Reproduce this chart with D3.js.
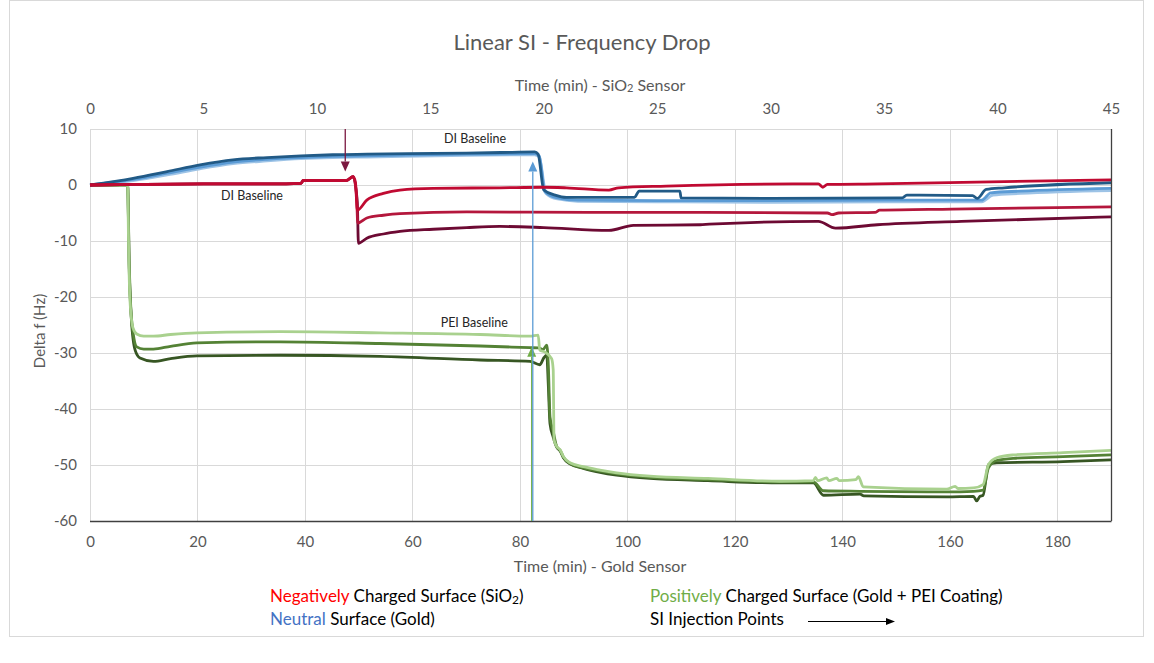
<!DOCTYPE html>
<html>
<head>
<meta charset="utf-8">
<script src="https://cdn.jsdelivr.net/npm/d3@7"></script>
<style>
  html, body { margin: 0; padding: 0; background: #fff; }
  svg { display: block; }
  text { font-family: Lato, "Open Sans", sans-serif; }
</style>
</head>
<body>
<svg id="chart" width="1154" height="663"></svg>
<script>
// ---- Data -------------------------------------------------------------
// SiO2 sensor runs (top axis, minutes) : [time, delta f in Hz]
const negA = [[0,0],[2,0.1],[5,0.2],[8,0.2],[9.3,0.3],[9.4,0.8],[11.3,0.8],[11.6,1.5],[11.7,0.5],[11.78,-4.5],[12.2,-2.7],[12.93,-1.5],[13.66,-0.9],[15.13,-0.6],[18.07,-0.5],[19.97,-0.4],[21,-0.5],[22.87,-0.9],[23.3,-0.5],[25.4,-0.2],[31,0.2],[32.1,0.2],[32.3,-0.4],[32.5,0.1],[34.7,0.2],[40.3,0.6],[45,0.9]];
const negB = [[0,0],[2,0.1],[5,0.2],[8,0.2],[9.3,0.3],[9.4,0.8],[11.3,0.8],[11.6,1.5],[11.75,-2],[11.8,-6.8],[12.2,-5.9],[12.93,-5.4],[13.66,-5.1],[16.6,-4.8],[22,-4.9],[27,-4.9],[32.5,-5.0],[32.7,-5.3],[33,-5.0],[34.6,-4.9],[34.8,-4.5],[38,-4.3],[45,-3.9]];
const negC = [[0,0],[2,0.1],[5,0.2],[8,0.2],[9.3,0.3],[9.4,0.8],[11.3,0.8],[11.6,1.5],[11.78,-3],[11.83,-10.4],[12.2,-9.5],[12.93,-8.75],[13.66,-8.3],[15.13,-7.9],[16.6,-7.6],[18.07,-7.4],[20,-7.6],[22.87,-8.1],[23.95,-7.2],[26.9,-7.1],[27.3,-7.0],[32.1,-6.5],[32.86,-7.7],[34.7,-7.1],[38.4,-6.5],[45,-5.7]];

// Gold sensor runs (top axis, minutes)
const neuDark = [[0,0],[1.9,1.2],[3.4,2.4],[4.85,3.6],[6.3,4.5],[7.8,4.9],[9.3,5.2],[10.7,5.4],[12.2,5.5],[14,5.6],[16.6,5.7],[18.1,5.8],[19.6,5.9],[19.75,5.5],[20.0,-0.9],[20.5,-1.8],[21,-2.2],[24.0,-2.2],[24.2,-1.1],[26.0,-1.1],[26.05,-2.3],[30,-2.4],[35.8,-2.3],[36,-1.8],[38.9,-1.9],[39.1,-2.4],[39.5,-0.8],[40.3,-0.5],[45,0.4]];
const neuMid = [[0,0],[1.9,1.0],[3.4,2.1],[4.85,3.2],[6.3,4.1],[7.8,4.6],[9.3,4.9],[10.7,5.1],[12.2,5.2],[16.6,5.5],[19.6,5.6],[19.8,5.2],[20.05,-1.2],[20.6,-2.3],[21.5,-2.7],[25,-2.8],[30,-2.8],[35,-2.7],[39.3,-2.7],[39.7,-1.4],[41,-1.1],[45,-0.6]];
const neuLight = [[0,0],[1.9,0.8],[3.4,1.8],[4.85,2.9],[6.3,3.8],[7.8,4.3],[9.3,4.7],[10.7,4.9],[12.2,5.0],[16.6,5.3],[19.6,5.4],[19.8,5.0],[20.1,-1.5],[20.6,-2.5],[21.5,-2.9],[25,-3.0],[30,-3.1],[35,-3.0],[39.3,-3.0],[39.8,-1.8],[41,-1.5],[45,-1.0]];

// Gold + PEI sensor runs (bottom axis, minutes)
const posLight = [[0,0],[7.0,0],[7.2,-12],[7.44,-20.5],[8.0,-25.5],[8.7,-26.6],[10,-27.0],[11.8,-27.0],[15,-26.7],[19.9,-26.4],[35.4,-26.2],[54,-26.4],[72.6,-26.7],[81.9,-27.0],[83.4,-26.8],[83.7,-29.5],[84.6,-29.8],[85.9,-31],[86.2,-33],[86.35,-45.5],[86.85,-46.7],[87.5,-47.3],[88.1,-48.5],[89.3,-49.6],[91.8,-50.3],[94.9,-50.9],[98,-51.4],[104.2,-52.0],[115,-52.4],[128.4,-52.9],[134.6,-52.8],[135,-52.2],[135.4,-52.8],[137.1,-52.3],[137.5,-52.8],[139,-52.4],[139.4,-52.8],[142.5,-52.6],[143,-52.1],[143.9,-53.9],[159.4,-54.3],[161,-53.8],[161.5,-54.2],[164.4,-54.1],[166.2,-53.5],[167.2,-49.9],[168.7,-48.7],[171.8,-48.2],[181.1,-47.8],[190,-47.4]];
const posMid = [[0,0],[7.0,0],[7.3,-14],[7.6,-22],[8.2,-27.5],[8.69,-28.9],[10,-29.3],[11.8,-29.3],[15,-28.8],[19.9,-28.2],[35.4,-28.0],[54,-28.3],[72.6,-28.75],[81.9,-29.05],[83.5,-29.1],[84.3,-29.4],[85,-28.6],[85.3,-32.4],[85.6,-41.4],[86.2,-44],[86.85,-46.7],[87.5,-47.4],[88.1,-48.6],[89.3,-49.7],[91.8,-50.5],[94.9,-51.1],[98,-51.6],[104.2,-52.2],[115,-52.6],[128.4,-53.0],[134.6,-53.0],[136.5,-54.6],[143.3,-54.7],[159.4,-54.8],[164.4,-54.7],[166.2,-54.5],[167.2,-50.5],[168.7,-49.2],[171.8,-48.8],[181.1,-48.5],[190,-48.2]];
const posDark = [[0,0],[7.0,0],[7.3,-15],[7.7,-24],[8.4,-29.5],[9.3,-30.9],[11.8,-31.5],[15,-31.0],[19.9,-30.5],[35.4,-30.4],[54,-30.6],[72.6,-31.25],[81.9,-31.5],[83.7,-32.1],[84.5,-30.8],[85.0,-30.4],[85.3,-36],[85.6,-42.6],[86.2,-45],[86.85,-46.8],[87.5,-47.5],[88.1,-48.7],[89.3,-49.8],[91.8,-50.6],[94.9,-51.3],[98,-51.8],[104.2,-52.4],[115,-52.8],[128.4,-53.2],[134.6,-53.2],[136.5,-55.4],[143.3,-55.2],[144,-55.5],[159.4,-55.7],[164.4,-55.6],[165,-56.4],[165.6,-55.6],[166.2,-55.4],[167.2,-49.9],[168.7,-49.6],[181.1,-49.4],[190,-49.1]];

// Axis ticks
const topTicks = [0,5,10,15,20,25,30,35,40,45];
const bottomTicks = [0,20,40,60,80,100,120,140,160,180];
const yTicks = [10,0,-10,-20,-30,-40,-50,-60];

// SI injection points: [axis, time, start value, tip value]
const injections = [
  ["top", 11.25, 10, 2.4],
  ["bottom", 82.2, -60, -28.9],
  ["bottom", 82.4, -60, 4.2]
];

// Baseline notes: [axis, time, value, text]
const notes = [
  ["top", 7.14, -2.7, "DI Baseline"],
  ["top", 16.97, 7.5, "DI Baseline"],
  ["bottom", 71.5, -25.4, "PEI Baseline"]
];

// ---- Layout ---------------------------------------------------------------
const svg = d3.select("#chart");
const plot = { left: 90, right: 1111, top: 129, bottom: 521 };

const xTop = d3.scaleLinear().domain([0, 45]).range([plot.left, plot.right]);
const xBot = d3.scaleLinear().domain([0, 190]).range([plot.left, plot.right]);
const y = d3.scaleLinear().domain([-60, 10]).range([plot.bottom, plot.top]);
const xOf = a => (a === "top" ? xTop : xBot);

const gray = "#595959";

// chart frame
svg.append("rect")
  .attr("x", 9.5).attr("y", 0.5).attr("width", 1134).attr("height", 636)
  .attr("fill", "none").attr("stroke", "#d9d9d9");

// title
svg.append("text")
  .attr("x", 582).attr("y", 50).attr("text-anchor", "middle")
  .attr("font-size", 22).attr("fill", gray)
  .text("Linear SI - Frequency Drop");

// gridlines
const grid = svg.append("g");
grid.selectAll("line.h").data(yTicks.filter(v => v > -60)).join("line")
  .attr("x1", plot.left).attr("x2", plot.right)
  .attr("y1", d => y(d) + 0.5).attr("y2", d => y(d) + 0.5)
  .attr("stroke", "#d9d9d9").attr("stroke-width", 1);
grid.selectAll("line.v").data(bottomTicks.filter(v => v > 0)).join("line")
  .attr("x1", d => Math.round(xBot(d)) + 0.5).attr("x2", d => Math.round(xBot(d)) + 0.5)
  .attr("y1", plot.top).attr("y2", plot.bottom)
  .attr("stroke", "#d9d9d9").attr("stroke-width", 1);
grid.append("line")
  .attr("x1", plot.left + 0.5).attr("x2", plot.left + 0.5)
  .attr("y1", plot.top).attr("y2", plot.bottom)
  .attr("stroke", "#d9d9d9");

// axes (plain hyphen for negatives)
const fmt = d => String(d);
const styleAxis = g => {
  g.select(".domain").remove();
  g.selectAll("text").attr("fill", gray).attr("font-size", 15)
    .attr("font-family", "Lato, sans-serif");
};
svg.append("g").attr("transform", `translate(0,${plot.top})`)
  .call(d3.axisTop(xTop).tickValues(topTicks).tickFormat(fmt).tickSize(0).tickPadding(15))
  .call(styleAxis);
svg.append("g").attr("transform", `translate(0,${plot.bottom})`)
  .call(d3.axisBottom(xBot).tickValues(bottomTicks).tickFormat(fmt).tickSize(0).tickPadding(15))
  .call(styleAxis);
svg.append("g").attr("transform", `translate(${plot.left},0)`)
  .call(d3.axisLeft(y).tickValues(yTicks).tickFormat(fmt).tickSize(0).tickPadding(13))
  .call(styleAxis);

// axis titles
const topTitle = svg.append("text").attr("x", 600).attr("y", 91)
  .attr("text-anchor", "middle").attr("font-size", 16).attr("fill", gray);
topTitle.append("tspan").text("Time (min) - SiO");
topTitle.append("tspan").attr("font-size", 11).attr("dy", 1).text("2");
topTitle.append("tspan").attr("dy", -1).text(" Sensor");

svg.append("text").attr("x", 600).attr("y", 572)
  .attr("text-anchor", "middle").attr("font-size", 16).attr("fill", gray)
  .text("Time (min) - Gold Sensor");

svg.append("text")
  .attr("transform", `translate(45,${(plot.top + plot.bottom) / 2 + 6}) rotate(-90)`)
  .attr("text-anchor", "middle").attr("font-size", 15).attr("fill", gray)
  .text("Delta f (Hz)");

// ---- Series ---------------------------------------------------------------
const series = [
  { data: posDark, axis: "bottom", color: "#375623" },
  { data: posMid, axis: "bottom", color: "#548235" },
  { data: posLight, axis: "bottom", color: "#a9d18e" },
  { data: neuLight, axis: "top", color: "#9dc3e6" },
  { data: neuMid, axis: "top", color: "#5b9bd5" },
  { data: neuDark, axis: "top", color: "#215a86" },
  { data: negC, axis: "top", color: "#6d0a33" },
  { data: negB, axis: "top", color: "#b4173c" },
  { data: negA, axis: "top", color: "#c00a32" }
];

const lines = svg.append("g");
series.forEach(s => {
  const x = xOf(s.axis);
  const gen = d3.line().x(d => x(d[0])).y(d => y(d[1])).curve(d3.curveMonotoneX);
  lines.append("path").datum(s.data)
    .attr("d", gen).attr("fill", "none")
    .attr("stroke", s.color).attr("stroke-width", 2.8)
    .attr("stroke-linejoin", "round");
});

// right and bottom axis lines
svg.append("line").attr("x1", plot.left).attr("x2", plot.right + 0.5)
  .attr("y1", plot.bottom + 0.5).attr("y2", plot.bottom + 0.5)
  .attr("stroke", "#404040").attr("stroke-width", 1.3);
svg.append("line").attr("x1", plot.right + 0.5).attr("x2", plot.right + 0.5)
  .attr("y1", plot.top).attr("y2", plot.bottom)
  .attr("stroke", "#404040").attr("stroke-width", 1.3);

// ---- Injection arrows ------------------------------------------------------
const arrowColors = ["#7b1840", "#70ad47", "#5b9bd5"];
injections.forEach((inj, i) => {
  const [axis, t, v0, v1] = inj;
  const x = xOf(axis)(t);
  const ya = y(v0), yb = y(v1);
  const dir = yb > ya ? 1 : -1;
  const head = 10, half = 4.5;
  svg.append("line")
    .attr("x1", x).attr("x2", x).attr("y1", ya).attr("y2", yb - dir * head)
    .attr("stroke", arrowColors[i]).attr("stroke-width", 1.3);
  svg.append("path")
    .attr("d", `M${x},${yb} L${x - half},${yb - dir * head} L${x + half},${yb - dir * head} Z`)
    .attr("fill", arrowColors[i]);
});

// ---- Baseline notes ---------------------------------------------------------
notes.forEach(n => {
  svg.append("text")
    .attr("x", xOf(n[0])(n[1])).attr("y", y(n[2]))
    .attr("text-anchor", "middle").attr("font-size", 12.5).attr("fill", "#262626")
    .text(n[3]);
});

// ---- Legend ---------------------------------------------------------------
const legend = svg.append("g").attr("font-size", 17).attr("fill", "#000");
const l1 = legend.append("text").attr("x", 270).attr("y", 602);
l1.append("tspan").attr("fill", "#ff0000").text("Negatively");
l1.append("tspan").text(" Charged Surface (SiO");
l1.append("tspan").attr("font-size", 12).attr("dy", 2).text("2");
l1.append("tspan").attr("dy", -2).text(")");

const l2 = legend.append("text").attr("x", 270).attr("y", 625);
l2.append("tspan").attr("fill", "#4472c4").text("Neutral");
l2.append("tspan").text(" Surface (Gold)");

const l3 = legend.append("text").attr("x", 650).attr("y", 602);
l3.append("tspan").attr("fill", "#70ad47").text("Positively");
l3.append("tspan").text(" Charged Surface (Gold + PEI Coating)");

legend.append("text").attr("x", 650).attr("y", 625).text("SI Injection Points");
legend.append("line").attr("x1", 808).attr("x2", 887).attr("y1", 621.5).attr("y2", 621.5)
  .attr("stroke", "#000").attr("stroke-width", 1);
legend.append("path").attr("d", "M895,621.5 L886,618 L886,625 Z").attr("fill", "#000");
</script>
</body>
</html>
